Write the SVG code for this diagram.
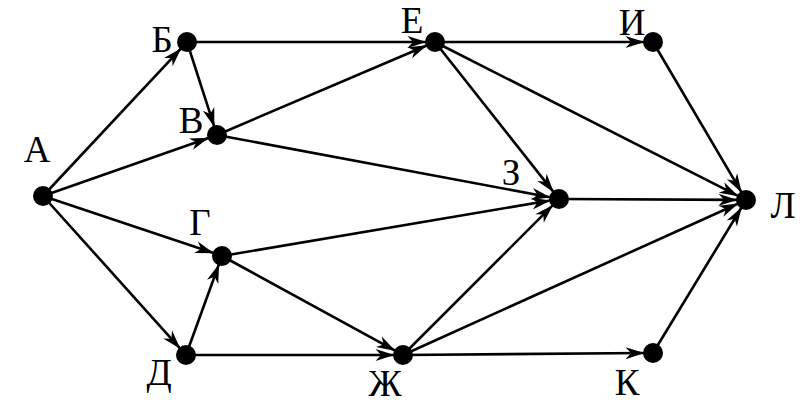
<svg xmlns="http://www.w3.org/2000/svg" width="806" height="403" viewBox="0 0 806 403">
<style>
.e{stroke:#000;stroke-width:2.6;fill:none;marker-end:url(#ah)}
.n{fill:#000}
.t{font-family:"Liberation Serif","Times New Roman",serif;font-size:37px;fill:#000;text-anchor:middle}
</style>
<defs>
<marker id="ah" markerUnits="userSpaceOnUse" markerWidth="20" markerHeight="13" viewBox="0 0 19 13" refX="18.5" refY="6.5" orient="auto">
<path d="M0,0.5 L19,6.5 L0,12.5 L5.5,6.5 z" fill="#000"/>
</marker>
</defs>
<rect width="806" height="403" fill="#fff"/>
<g id="edges">
<line class="e" x1="43" y1="196" x2="180.9" y2="48.6"/>
<line class="e" x1="43" y1="196" x2="208.5" y2="138"/>
<line class="e" x1="43" y1="196" x2="213.5" y2="253.1"/>
<line class="e" x1="43" y1="196" x2="180" y2="348.3"/>
<line class="e" x1="187" y1="42" x2="214.2" y2="126.4"/>
<line class="e" x1="187" y1="42" x2="426" y2="42"/>
<line class="e" x1="217" y1="135" x2="426.7" y2="45.5"/>
<line class="e" x1="217" y1="135" x2="550.2" y2="197.3"/>
<line class="e" x1="222" y1="256" x2="550.1" y2="200.5"/>
<line class="e" x1="222" y1="256" x2="395.1" y2="350.7"/>
<line class="e" x1="186" y1="355" x2="218.9" y2="264.5"/>
<line class="e" x1="186" y1="355" x2="394" y2="355"/>
<line class="e" x1="435" y1="42" x2="644" y2="42"/>
<line class="e" x1="435" y1="42" x2="553.4" y2="191.9"/>
<line class="e" x1="435" y1="42" x2="738" y2="195.9"/>
<line class="e" x1="403" y1="355" x2="552.6" y2="205.4"/>
<line class="e" x1="403" y1="355" x2="737.8" y2="203.7"/>
<line class="e" x1="403" y1="355" x2="644" y2="353"/>
<line class="e" x1="653" y1="42" x2="741.4" y2="192.2"/>
<line class="e" x1="559" y1="199" x2="737" y2="199.9"/>
<line class="e" x1="653" y1="353" x2="741.4" y2="207.7"/>
</g>
<g id="A"><circle class="n" cx="43" cy="196" r="10"/><text class="t" x="37" y="162">А</text></g>
<g id="B"><circle class="n" cx="187" cy="42" r="10"/><text class="t" x="162" y="52">Б</text></g>
<g id="V"><circle class="n" cx="217" cy="135" r="10"/><text class="t" x="191" y="133">В</text></g>
<g id="G"><circle class="n" cx="222" cy="256" r="10"/><text class="t" x="200" y="235">Г</text></g>
<g id="D"><circle class="n" cx="186" cy="355" r="10"/><text class="t" x="159" y="385">Д</text></g>
<g id="E"><circle class="n" cx="435" cy="42" r="10"/><text class="t" x="412" y="33">Е</text></g>
<g id="Zh"><circle class="n" cx="403" cy="355" r="10"/><text class="t" x="385" y="396">Ж</text></g>
<g id="Z"><circle class="n" cx="559" cy="199" r="10"/><text class="t" x="511" y="185">З</text></g>
<g id="I"><circle class="n" cx="653" cy="42" r="10"/><text class="t" x="632" y="35">И</text></g>
<g id="K"><circle class="n" cx="653" cy="353" r="10"/><text class="t" x="627" y="395">К</text></g>
<g id="L"><circle class="n" cx="746" cy="200" r="10"/><text class="t" x="783" y="218">Л</text></g>
</svg>
